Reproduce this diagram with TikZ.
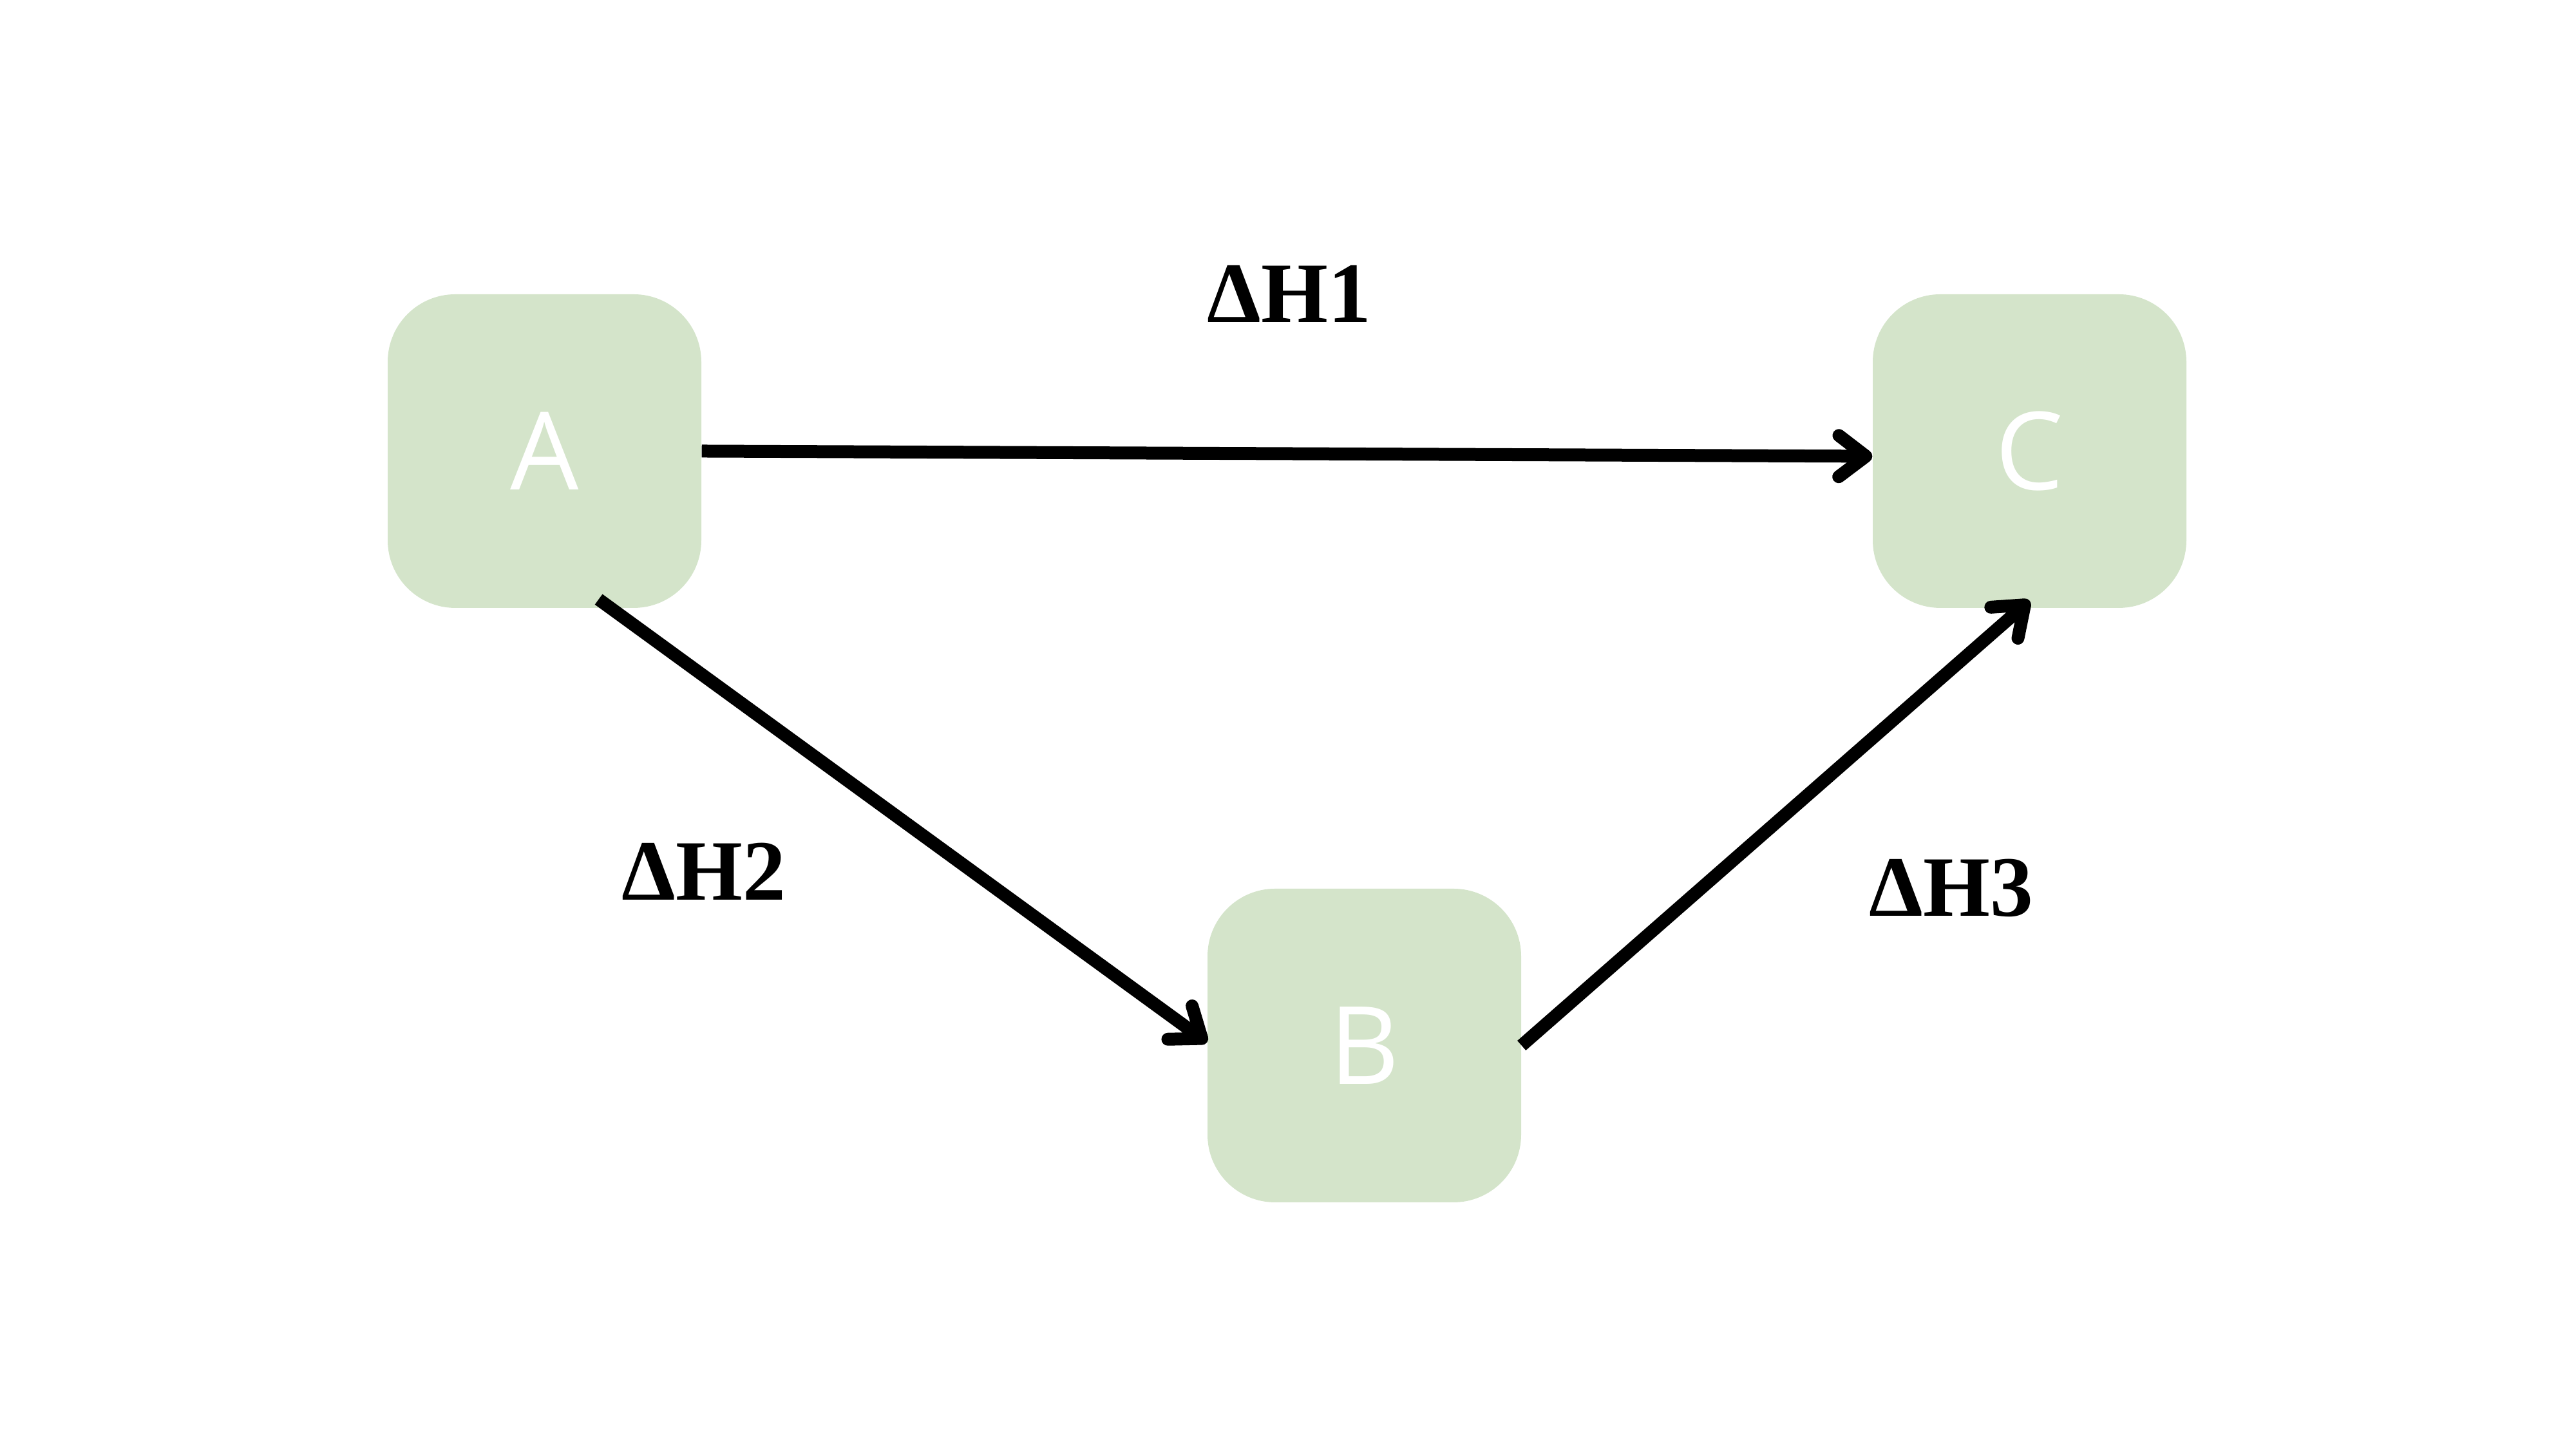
\documentclass[tikz,border=0pt]{standalone}
\usepackage{fontspec}
\setmainfont{Open Sans}
\newfontfamily\labelfont{Liberation Serif}
\usetikzlibrary{arrows.meta,calc}
\definecolor{boxgreen}{HTML}{D4E4CA}
\begin{document}
\begin{tikzpicture}[
  statebox/.style={fill=boxgreen, draw=none, rounded corners=1.05cm,
    minimum width=4.87cm, minimum height=4.87cm, inner sep=0pt,
    text=white, font=\fontsize{47.8}{50}\selectfont},
  flow/.style={line width=0.2cm, draw=black,
    -{Straight Barb[length=0.42cm, width=0.64cm, round]}},
  enthalpy/.style={font=\labelfont\bfseries\fontsize{38}{40}\selectfont, inner sep=0pt}
]
\useasboundingbox (0,0) rectangle (40,22.5);

% states
\node[statebox] (A) at (8.455,15.495) {A};
\node[statebox] (C) at (31.515,15.495) {C};
\node[statebox] (B) at (21.185,6.265) {B};

% reaction paths
\draw[flow] (A.east) -- ([yshift=-0.08cm]C.west);
\draw[flow] ([yshift=0.14cm]A.-71) -- ([yshift=0.05cm]B.west);
\draw[flow] (B.east) -- ([yshift=0.12cm]C.south);

% enthalpy labels
\node[enthalpy] (h1) at (20.02,17.94) {ΔH1};
\node[enthalpy] (h2) at (10.93,8.97) {ΔH2};
\node[enthalpy] (h3) at (30.30,8.71) {ΔH3};
\end{tikzpicture}
\end{document}
